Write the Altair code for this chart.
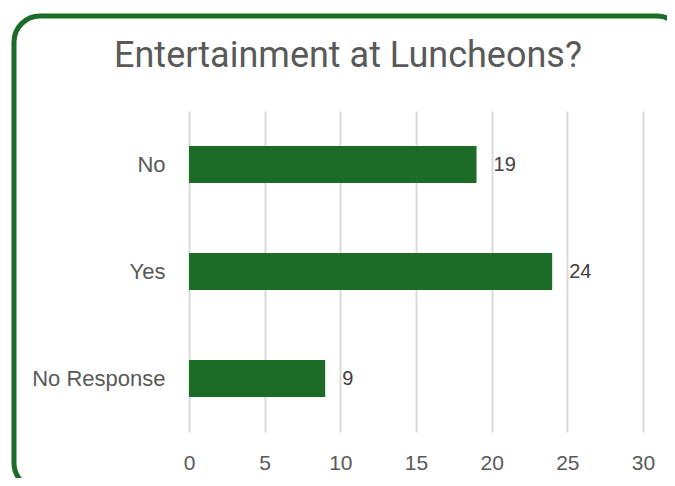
import altair as alt
import pandas as pd

categories = ["No", "Yes", "No Response"]
values = [19, 24, 9]
title_text = "Entertainment at Luncheons?"

df = pd.DataFrame({"category": categories, "value": values})

FONT = "Liberation Sans"
TITLE_FONT = "Roboto"
GREEN = "#1c6b27"

base = alt.Chart(df)

bars = base.mark_bar(color=GREEN, size=37).encode(
    x=alt.X("value:Q", scale=alt.Scale(domain=[0, 30]),
            axis=alt.Axis(values=[0, 5, 10, 15, 20, 25, 30], title=None, domain=False,
                          ticks=False, grid=True, gridColor="#d9d9d9", gridWidth=2,
                          labelFontSize=21, labelColor="#595959", labelFont=FONT,
                          labelPadding=20, labelFlush=False)),
    y=alt.Y("category:N", sort=categories,
            axis=alt.Axis(title=None, domain=False, ticks=False, grid=False,
                          labelFontSize=22, labelColor="#595959", labelFont=FONT,
                          labelPadding=24)),
)

labels = base.mark_text(align="left", baseline="middle", dx=17, fontSize=20,
                        font=FONT, color="#404040").encode(
    x="value:Q",
    y=alt.Y("category:N", sort=categories),
    text="value:Q",
)

border = alt.Chart(pd.DataFrame({"k": [0]})).mark_rect(
    filled=False, stroke=GREEN, strokeWidth=5, cornerRadius=26
).encode(
    x=alt.value(-175), x2=alt.value(494),
    y=alt.value(-95), y2=alt.value(378),
)

title = alt.Chart(pd.DataFrame({"t": [title_text]})).mark_text(
    fontSize=36, font=TITLE_FONT, color="#595959", align="center", baseline="alphabetic"
).encode(
    x=alt.value(159), y=alt.value(-44), text="t:N",
)

chart = alt.layer(border, bars, labels, title).properties(
    width=454, height=321,
    autosize=alt.AutoSizeParams(type="none"),
    padding={"left": 181, "top": 103, "right": 24, "bottom": 46},
).configure_view(stroke=None)

chart.save("out.html", embed_options={"renderer": "svg", "actions": False})
